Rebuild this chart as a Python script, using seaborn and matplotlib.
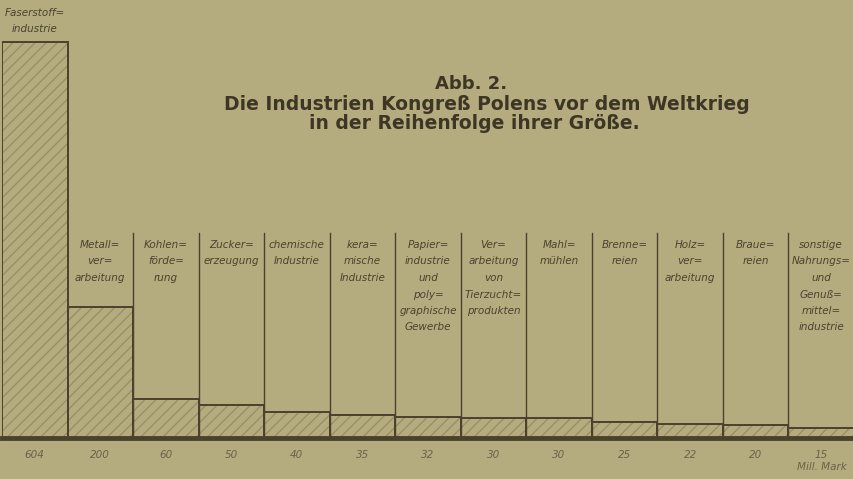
import numpy as np
import pandas as pd
import matplotlib
matplotlib.use("Agg")
import matplotlib.pyplot as plt
import seaborn as sns

# Industries of Congress Poland before WWI, million marks
industries = [
    "Faserstoff-industrie", "Metallverarbeitung", "Kohlenförderung",
    "Zuckererzeugung", "chemische Industrie", "keramische Industrie",
    "Papierindustrie", "Verarbeitung von Tierzuchtprodukten", "Mahlmühlen",
    "Brennereien", "Holzverarbeitung", "Brauereien",
    "sonstige Nahrungs- und Genußmittelindustrie",
]
values = [604, 200, 60, 50, 40, 35, 32, 30, 30, 25, 22, 20, 15]
value_labels = ["604", "200", "60", "50", "40", "35", "32", "30", "30", "25", "22", "20", "15"]
column_texts = [
    ["Faserstoff=", "industrie"],
    ["Metall=", "ver=", "arbeitung"],
    ["Kohlen=", "förde=", "rung"],
    ["Zucker=", "erzeugung"],
    ["chemische", "Industrie"],
    ["kera=", "mische", "Industrie"],
    ["Papier=", "industrie", "und", "poly=", "graphische", "Gewerbe"],
    ["Ver=", "arbeitung", "von", "Tierzucht=", "produkten"],
    ["Mahl=", "mühlen"],
    ["Brenne=", "reien"],
    ["Holz=", "ver=", "arbeitung"],
    ["Braue=", "reien"],
    ["sonstige", "Nahrungs=", "und", "Genuß=", "mittel=", "industrie"],
]

paper = "#b4ac7f"
ink = "#4a422c"
hatch_ink = "#968d66"
title_ink = "#3e3624"

df = pd.DataFrame({"Industrie": industries, "Wert": values})

plt.rcParams["hatch.linewidth"] = 0.9
fig = plt.figure(figsize=(8.54, 4.79), dpi=100, facecolor=paper)
ax = fig.add_axes([2 / 854, 41 / 479, 1 - 2 / 854, 438 / 479])
ax.set_facecolor(paper)

# hatched fill
sns.barplot(data=df, x="Industrie", y="Wert", order=industries, ax=ax,
            color=paper, edgecolor=hatch_ink, linewidth=0, hatch="///",
            width=1.0, saturation=1)
# outlines
sns.barplot(data=df, x="Industrie", y="Wert", order=industries, ax=ax,
            fill=False, edgecolor=ink, linewidth=1.4, width=1.0)

top = 604 * 438 / 396
px = top / 438  # data units per pixel
ax.set_xlim(-0.5, 12.5)
ax.set_ylim(0, top)

# column dividers
for i in range(1, 13):
    ax.axvline(i + 0.5, ymin=0, ymax=205 / 438, color=ink, lw=1.0)
ax.axhline(0, color=ink, lw=3.5, clip_on=False)

# column labels
for i, lines in enumerate(column_texts):
    y0 = (438 - 13) * px if i == 0 else (438 - 245) * px
    for j, line in enumerate(lines):
        ax.text(i, y0 - j * 16.5 * px, line, ha="center", va="center",
                fontsize=7.5, style="italic", color=ink)

ax.set_xticks(range(13))
ax.set_xticklabels(value_labels, style="italic", fontsize=7.5, color="#6a6248")
ax.tick_params(axis="x", length=0, pad=9)
ax.set_yticks([])
ax.set_xlabel("")
ax.set_ylabel("")
for s in ax.spines.values():
    s.set_visible(False)

fig.text(822 / 854, 1 - 467 / 479, "Mill. Mark", ha="center", va="center",
         fontsize=7.5, style="italic", color="#6a6248")

fig.text(471 / 854, 1 - 84 / 479, "Abb. 2.", ha="center", va="center",
         fontsize=13, fontweight="semibold", color=title_ink)
fig.text(487 / 854, 1 - 104 / 479, "Die Industrien Kongreß Polens vor dem Weltkrieg",
         ha="center", va="center", fontsize=13.5, fontweight="semibold", color=title_ink)
fig.text(474 / 854, 1 - 124 / 479, "in der Reihenfolge ihrer Größe.",
         ha="center", va="center", fontsize=13.5, fontweight="semibold", color=title_ink)

fig.savefig("out.png", dpi=100, facecolor=paper)
